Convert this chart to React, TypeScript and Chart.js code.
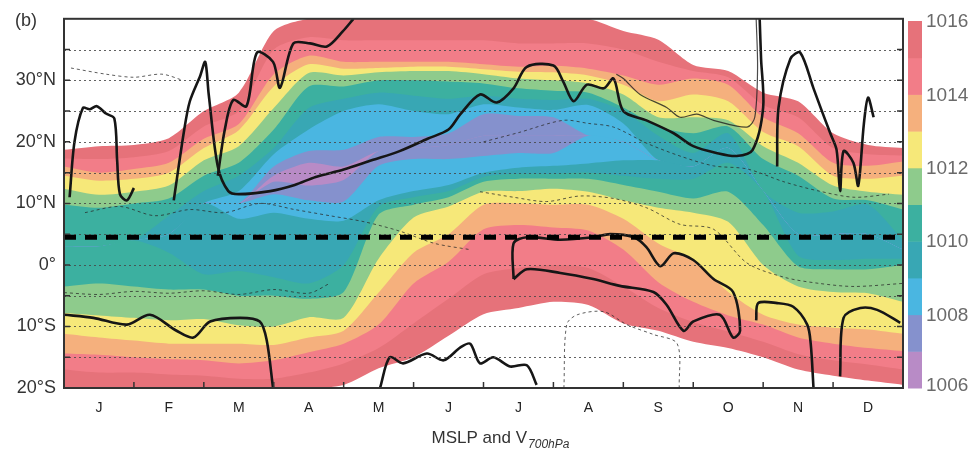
import React, { useEffect, useRef } from "react";
import { Chart, registerables } from "chart.js";

Chart.register(...registerables);

const FONT = '"Liberation Sans", Arial, Helvetica, sans-serif';

const MONTHS = ["J", "F", "M", "A", "M", "J", "J", "A", "S", "O", "N", "D"];
const TIME = [0, 0.5, 1, 1.5, 2, 2.5, 3, 3.5, 4, 4.5, 5, 5.5, 6, 6.5, 7, 7.5, 8, 8.5, 9, 9.5, 10, 10.5, 11, 11.5, 12];
const Y_LABEL_TICKS = [-20, -10, 0, 10, 20, 30];
const GRID_LATS = [-15, -10, -5, 0, 5, 10, 15, 20, 25, 30, 35];
const CBAR_LEVELS = [1006, 1007, 1008, 1009, 1010, 1011, 1012, 1013, 1014, 1015, 1016];
const CBAR_LABELS = [1006, 1008, 1010, 1012, 1014, 1016];

// colour of the band whose lower bound is the key (hPa)
const BAND_COLORS: Record<number, string> = {
  1015: "#E6727A",
  1014: "#F27D88",
  1013: "#F5B07D",
  1012: "#F6E879",
  1011: "#8ECB8C",
  1010: "#3CB0A0",
  1009: "#38A7B4",
  1008: "#4AB6E1",
  1007: "#8591CD",
  1006: "#B88BC6",
};

// Latitude of each isobar crossing, south (S) and north (N) of the pressure trough
const S16 = [-20, -20, -20, -20, -20, -20, -20, -20, -19.5, -16.8, -15, -11.5, -8, -7, -6, -6.5, -9.5, -10.7, -12.5, -13.5, -15, -17, -18, -18.8, -19.5];
const S15 = [-17, -17.5, -17.5, -17.8, -18, -18.5, -18.5, -17.5, -16, -13.5, -9.5, -5.5, -1.5, -0.5, 0, -0.5, -3.5, -7, -9.3, -10.8, -12.5, -14.5, -15.5, -16.2, -17];
const S14 = [-14.4, -14.6, -15, -15.3, -15.5, -16, -15.5, -14.2, -12.8, -9.7, -3, 0.5, 5.8, 6.5, 6.1, 5.6, 2.5, -2.8, -6, -8.2, -9.7, -11.8, -12.8, -13.5, -14];
const S13 = [-11.2, -11.8, -12.3, -12.8, -12.8, -12.8, -13, -11.8, -10.7, -4.5, 2, 5, 9.8, 10, 9.8, 9.8, 7.5, 3.5, 0.8, -4.4, -8.1, -9.7, -10.2, -10.5, -11.2];
const S12 = [-7.8, -8.2, -8.6, -9, -8.8, -9.8, -10, -8.5, -8.6, 1, 7.7, 9.5, 11.9, 12, 12.4, 11.9, 10.5, 9.3, 8.5, 7, 0, -3.5, -4.4, -4.6, -6];
const S11 = [-3.5, -3, -3.5, -4, -4, -5, -5, -5.5, -4.4, 8.2, 9.8, 11, 13.5, 14, 14, 14, 13, 11.9, 10.8, 11.9, 6.5, -0.2, -0.7, -0.7, 0];
const S10 = [3, 3, 4, 2, -1.5, -1, -2, -3, 0, 9.5, 11, 12, 14.3, 14.8, 14.8, 15, 14.5, 14, 14, 16.6, 12, 1.5, 0.8, 1, 1];
const S9 = [3, 3, 4, 5, 10, 7.5, 8.5, 7.5, 7.2, 10.5, 12, 13, 15, 15.8, 16.1, 16.5, 17, 17, 16, 19, 12, 5, 5, 5, 2.5];
const S8 = [3, 3, 4, 5, 10, 10, 11.5, 10.5, 10.3, 16.1, 17.2, 17.2, 17.7, 18.2, 18.2, 21, 20, 17, 16, 19, 12, 5, 5, 5, 2.5];
const S7 = [3, 3, 4, 5, 10, 10, 13.5, 12.9, 13.8, 18.5, 19, 19.5, 21, 21, 21, 21, 20, 17, 16, 19, 12, 5, 5, 5, 2.5];
const N7 = [3, 3, 4, 5, 10, 10, 14.5, 16.6, 16, 18.5, 19, 19.5, 21, 21, 21, 21, 20, 17, 16, 19, 12, 5, 5, 5, 2.5];
const N8 = [3, 3, 4, 5, 10, 10, 16, 18.5, 18.7, 20.8, 20.8, 21.4, 24.5, 24.2, 24, 21, 20, 17, 16, 19, 12, 5, 5, 5, 2.5];
const N9 = [3, 3, 4, 5, 10, 12, 18, 22, 25, 26.1, 25, 24.5, 26.1, 25.6, 25.2, 26, 23, 17, 16, 19, 12, 5, 5, 5, 2.5];
const N10 = [3, 3, 4, 8, 12, 14.5, 19, 25.5, 27, 28, 27.5, 27, 27.5, 27, 26.8, 27, 25, 21, 18.2, 21.4, 12, 8.5, 8.7, 9.8, 4];
const N11 = [9.8, 9.3, 10, 10.8, 14.5, 16.6, 22, 29, 29, 30, 30, 29.8, 29.5, 28.7, 28.3, 28, 25.6, 22.5, 21.4, 22.5, 17.2, 14.5, 10.8, 10.5, 9];
const N12 = [12.4, 11.4, 11.9, 12.9, 17, 19.3, 25.5, 31.2, 30.8, 31.3, 31.5, 31.5, 31, 30.3, 30, 29.5, 27.7, 24, 24, 23.5, 19.3, 16.6, 12.9, 11.9, 11.4];
const N13 = [14.5, 13.7, 14, 15, 19, 21.9, 29, 32.6, 31.9, 32, 32.2, 32.2, 31.8, 31.4, 31.3, 30.8, 29.3, 26.6, 27.7, 26.6, 21.6, 19.3, 14.5, 14, 14.5];
const N14 = [16, 15, 15.6, 16.6, 20.5, 22.9, 31, 34, 33, 33, 33, 33, 32.6, 32.2, 32.4, 31.9, 30.8, 29.3, 30.3, 29.3, 24, 21.4, 16.6, 16.1, 16.8];
const N15 = [17.3, 17.2, 17.5, 18.5, 22.5, 25, 35, 37, 36.5, 36.5, 36.5, 36.5, 36.5, 36, 36, 36, 35, 33, 31.5, 30.5, 26, 24, 19, 18, 17.8];
const N16 = [18.7, 19.3, 19.5, 20.6, 25, 28, 38, 40, 40, 40, 40, 40, 40, 40, 40, 40, 38, 36.6, 32.5, 31.5, 28, 26.6, 21.4, 19.5, 19];

const ISOBARS = [S16, S15, S14, S13, S12, S11, S10, S9, S8, S7, N7, N8, N9, N10, N11, N12, N13, N14, N15, N16];

// V700 zero contours, thick (month, latitude)
const V_NH_TROUGH: number[][] = [
  [1.57, 10.5], [1.72, 22], [1.8, 26.6], [1.95, 30.8], [2.02, 33], [2.07, 27.7], [2.2, 16], [2.35, 12], [2.5, 11.5],
  [2.95, 12], [3.3, 13], [3.6, 14.3], [4.0, 15.5], [4.4, 17], [4.8, 18.5], [5.2, 20.5], [5.5, 22], [5.67, 24.5],
  [5.95, 27.7], [6.19, 26.4], [6.43, 28.7], [6.62, 32.2], [7.0, 32.4], [7.14, 29.8], [7.29, 26.6], [7.48, 29.3],
  [7.72, 28.7], [7.86, 30.3], [8.0, 25], [8.33, 23.5], [8.72, 21.4], [9.0, 19.3], [9.33, 18.2], [9.62, 17.7],
  [9.85, 18.7], [10.0, 25.6], [9.97, 33.5], [9.95, 40],
];
const V_NH_SPRING: number[][] = [
  [2.2, 14.5], [2.3, 22], [2.42, 26.8], [2.61, 25.8], [2.76, 34.5], [2.99, 33], [3.09, 28.8], [3.28, 36], [3.52, 36], [3.76, 35.5], [3.99, 38], [4.14, 40],
];
const V_NH_WINTER: number[][] = [
  [0.08, 11], [0.15, 20], [0.27, 25.5], [0.37, 25.3], [0.47, 25.8], [0.6, 24.6], [0.72, 23.8], [0.76, 17], [0.8, 11.5], [0.9, 10.5], [1.0, 12.5],
];
const V_NH_NOV: number[][] = [
  [10.2, 16], [10.22, 25.6], [10.39, 33.5], [10.53, 34.5], [10.72, 28.7], [10.82, 25.6], [10.96, 21.4], [11.05, 18.7], [11.1, 12],
  [11.15, 18.5], [11.29, 16.6], [11.36, 12.9], [11.44, 22.9], [11.5, 27.2], [11.58, 24],
];
const V_SH_WINTER: number[][] = [
  [0, -8.1], [0.42, -8.6], [0.9, -9.7], [1.23, -8.1], [1.61, -10.7], [1.85, -11.8], [2.09, -9.2], [2.52, -8.6], [2.8, -9.2], [2.9, -12.3], [2.99, -20],
];
const V_EQ_LOOP: number[][] = [
  [6.43, -2.3], [6.43, 3.5], [6.62, 4.5], [7.1, 4.1], [7.57, 4.5], [7.81, 5], [8.15, 4.5], [8.33, 2.9], [8.53, -0.2], [8.72, 1.9],
  [9.0, 0.8], [9.29, -2.3], [9.57, -4.4], [9.67, -10.7], [9.57, -11.8], [9.38, -8.1], [9.0, -9.2], [8.86, -10.7], [8.62, -6.5],
  [8.43, -4.4], [7.95, -3.4], [7.57, -2.3], [7.1, -1.3], [6.62, -0.7], [6.43, -2.3],
];
const V_SH_AUTUMN: number[][] = [
  [9.9, -9], [9.93, -6.2], [10.2, -6.2], [10.43, -6.8], [10.63, -9.7], [10.68, -12.8], [10.72, -20],
];
const V_SH_DEC: number[][] = [
  [11.1, -18.1], [11.15, -8.6], [11.39, -7], [11.63, -7.3], [11.96, -9.4],
];
const V_SH_JUN: number[][] = [
  [4.52, -20], [4.66, -15], [4.85, -16], [5.19, -14.4], [5.43, -15.5], [5.67, -13.4], [5.81, -12.8], [5.95, -16], [6.14, -15], [6.38, -16.5], [6.62, -16.3], [6.76, -19.5],
];
const THICK_CONTOURS = [V_NH_TROUGH, V_NH_SPRING, V_NH_WINTER, V_NH_NOV, V_SH_WINTER, V_EQ_LOOP, V_SH_AUTUMN, V_SH_DEC, V_SH_JUN];

// thin solid (southerly-positive) contour
const V_THIN_AUTUMN: number[][] = [
  [7.9, 31], [8.0, 30.3], [8.24, 27.7], [8.62, 25.6], [8.81, 24], [9.05, 24.5], [9.29, 23.5], [9.77, 22.4], [9.88, 24], [9.92, 32], [9.9, 40],
];
const THIN_CONTOURS = [V_THIN_AUTUMN];

// thin dotted (negative) contours
const V_NEG_TROP_S: number[][] = [
  [0, -4.5], [0.5, -4.8], [1.0, -4.3], [1.5, -4.6], [2.0, -4.2], [2.5, -4.8], [3.0, -4.0], [3.5, -4.6], [3.8, -3],
];
const V_NEG_TROP_N: number[][] = [
  [0.3, 8.5], [0.8, 9.5], [1.3, 8], [1.8, 9], [2.3, 8.5], [2.8, 10], [3.3, 9], [3.8, 8], [4.3, 7], [4.8, 5.5], [5.3, 3.5], [5.8, 2.5],
];
const V_NEG_SUMMER: number[][] = [
  [5.95, 11.9], [6.43, 11], [6.9, 10.3], [7.38, 11.2], [7.86, 10.8], [8.33, 9.3], [8.81, 6.6], [9.29, 5.8], [9.77, 0.3], [10.3, -2], [10.8, -3], [11.3, -3.5], [12, -3],
];
const V_NEG_AUTUMN: number[][] = [
  [6.0, 20], [6.5, 21.5], [7.14, 23.5], [7.5, 23], [7.86, 22.4], [8.33, 19.8], [8.81, 17.7], [9.29, 16.1], [9.77, 15.6], [10.3, 13.5], [10.8, 12], [11.3, 11], [11.8, 11.5],
];
const V_NEG_WINTER_N: number[][] = [
  [0.1, 32], [0.6, 31], [1.0, 30.5], [1.4, 31], [1.7, 30],
];
const V_NEG_SH_WHITE: number[][] = [
  [7.15, -20], [7.19, -9.7], [7.34, -8.1], [7.72, -7.6], [8.05, -9.7], [8.43, -11.3], [8.77, -12.8], [8.8, -20],
];
const DOTTED_CONTOURS = [V_NEG_TROP_S, V_NEG_TROP_N, V_NEG_SUMMER, V_NEG_AUTUMN, V_NEG_WINTER_N, V_NEG_SH_WHITE];

const DASHED_LAT = 4.5;

// colour painted below isobar i (i: 0 = S16 ... 9 = S7, 10 = N7 ... 19 = N16)
function belowColor(i: number) {
  if (i === 0) return "#ffffff";
  if (i <= 9) return BAND_COLORS[1016 - i];
  return BAND_COLORS[996 + i];
}

const decorPlugin = {
  id: "decor",
  afterDatasetsDraw(chart: any) {
    const { ctx, chartArea: a, scales } = chart;
    const y = scales.y;
    const x = scales.x;
    ctx.save();
    ctx.strokeStyle = "rgba(70,70,70,0.85)";
    ctx.lineWidth = 1;
    ctx.setLineDash([2, 3]);
    for (const v of GRID_LATS) {
      const py = Math.round(y.getPixelForValue(v)) + 0.5;
      ctx.beginPath();
      ctx.moveTo(a.left, py);
      ctx.lineTo(a.right, py);
      ctx.stroke();
    }
    ctx.setLineDash([]);
    ctx.strokeStyle = "#333";
    ctx.lineWidth = 1.5;
    for (const v of GRID_LATS) {
      const py = y.getPixelForValue(v);
      ctx.beginPath();
      ctx.moveTo(a.left, py);
      ctx.lineTo(a.left + 6, py);
      ctx.moveTo(a.right, py);
      ctx.lineTo(a.right - 6, py);
      ctx.stroke();
    }
    for (let m = 1; m < 12; m++) {
      const px = x.getPixelForValue(m);
      ctx.beginPath();
      ctx.moveTo(px, a.bottom);
      ctx.lineTo(px, a.bottom - 6);
      ctx.stroke();
    }
    ctx.lineWidth = 2;
    ctx.strokeRect(a.left, a.top, a.right - a.left, a.bottom - a.top);
    ctx.restore();
  },
  afterDraw(chart: any) {
    const { ctx } = chart;
    ctx.save();
    // colour bar
    const cbX = 908;
    const cbW = 14;
    const cbTop = 21;
    const cbBot = 388;
    const n = CBAR_LEVELS.length - 1;
    const h = (cbBot - cbTop) / n;
    const lvlY = (lv: number) => cbBot - ((lv - CBAR_LEVELS[0]) / n) * (cbBot - cbTop);
    for (let k = 0; k < n; k++) {
      const lv = CBAR_LEVELS[k];
      ctx.fillStyle = BAND_COLORS[lv];
      ctx.fillRect(cbX, lvlY(lv) - h, cbW, h + 0.5);
    }
    ctx.fillStyle = "#6a6a6a";
    ctx.font = `19px ${FONT}`;
    ctx.textAlign = "left";
    ctx.textBaseline = "middle";
    for (const lv of CBAR_LABELS) {
      let yy = lvlY(lv);
      if (lv === 1006) yy -= 3;
      ctx.fillText(String(lv), 926, yy + 1);
    }
    // panel label
    ctx.fillStyle = "#333";
    ctx.font = `18px ${FONT}`;
    ctx.textBaseline = "alphabetic";
    ctx.fillText("(b)", 15, 26);
    // x axis title with subscript
    const main = "MSLP and V";
    const sub = "700hPa";
    ctx.font = `17px ${FONT}`;
    const w1 = ctx.measureText(main).width;
    ctx.font = `italic 12px ${FONT}`;
    const w2 = ctx.measureText(sub).width;
    const x0 = 500 - (w1 + w2) / 2;
    ctx.fillStyle = "#333";
    ctx.font = `17px ${FONT}`;
    ctx.fillText(main, x0, 443);
    ctx.font = `italic 12px ${FONT}`;
    ctx.fillText(sub, x0 + w1 + 1, 448);
    ctx.restore();
  },
};

export default function App() {
  const ref = useRef<HTMLCanvasElement | null>(null);

  useEffect(() => {
    document.body.style.margin = "0";
    const canvas = ref.current;
    if (!canvas) return;

    // painter's order: N16 first ... N7, S7 ... S16 last; each isobar fills down to the bottom
    const fillSets = ISOBARS.map((arr, i) => ({
      type: "line",
      data: TIME.map((t, j) => ({ x: t, y: arr[j] })),
      backgroundColor: belowColor(i),
      borderColor: "rgba(0,0,0,0)",
      borderWidth: 0,
      pointRadius: 0,
      tension: 0.25,
      fill: "start",
      order: 100 + i,
    }));

    const toXY = (pts: number[][]) => pts.map((p) => ({ x: p[0], y: p[1] }));

    const dottedSets = DOTTED_CONTOURS.map((pts) => ({
      type: "line",
      data: toXY(pts),
      borderColor: "rgba(40,40,40,0.75)",
      borderWidth: 1,
      borderDash: [3, 3],
      pointRadius: 0,
      tension: 0.3,
      fill: false,
      order: 2,
    }));

    const thinSets = THIN_CONTOURS.map((pts) => ({
      type: "line",
      data: toXY(pts),
      borderColor: "rgba(30,30,30,0.8)",
      borderWidth: 1.2,
      pointRadius: 0,
      tension: 0.3,
      fill: false,
      order: 1,
    }));

    const thickSets = THICK_CONTOURS.map((pts) => ({
      type: "line",
      data: toXY(pts),
      borderColor: "#161616",
      borderWidth: 2.6,
      pointRadius: 0,
      tension: 0.3,
      fill: false,
      order: 0,
    }));

    const dashedSet = {
      type: "line",
      data: [
        { x: 0, y: DASHED_LAT },
        { x: 12, y: DASHED_LAT },
      ],
      borderColor: "#000",
      borderWidth: 5,
      borderDash: [12, 9],
      pointRadius: 0,
      fill: false,
      order: -1,
    };

    const chart = new Chart(canvas, {
      type: "line",
      data: { datasets: [...fillSets, ...dottedSets, ...thinSets, ...thickSets, dashedSet] as any },
      options: {
        animation: false,
        responsive: false,
        maintainAspectRatio: false,
        events: [],
        layout: { padding: { top: 9, right: 70, bottom: 0, left: 0 } },
        plugins: {
          legend: { display: false },
          tooltip: { enabled: false },
          filler: { propagate: false },
        },
        scales: {
          x: {
            type: "linear",
            min: 0,
            max: 12,
            grid: { display: false, drawTicks: false },
            border: { display: false },
            afterBuildTicks: (scale: any) => {
              scale.ticks = MONTHS.map((_, i) => ({ value: i + 0.5 }));
            },
            afterFit: (scale: any) => {
              scale.height = 63;
            },
            ticks: {
              autoSkip: false,
              maxRotation: 0,
              padding: 12,
              color: "#222",
              font: { family: FONT, size: 14 },
              callback: (v: any) => MONTHS[Math.floor(Number(v))],
            },
          },
          y: {
            type: "linear",
            min: -20,
            max: 40,
            grid: { display: false, drawTicks: false },
            border: { display: false },
            afterBuildTicks: (scale: any) => {
              scale.ticks = Y_LABEL_TICKS.map((v) => ({ value: v }));
            },
            afterFit: (scale: any) => {
              scale.width = 64;
            },
            ticks: {
              padding: 8,
              color: "#333",
              font: { family: FONT, size: 18 },
              callback: (v: any) => {
                const n = Number(v);
                if (n === 0) return "0°";
                return n > 0 ? `${n}°N` : `${-n}°S`;
              },
            },
          },
        },
      } as any,
      plugins: [decorPlugin],
    });

    return () => chart.destroy();
  }, []);

  return (
    <div style={{ position: "absolute", left: 0, top: 0, width: 973, height: 451, background: "#fff" }}>
      <canvas ref={ref} width={973} height={451} style={{ width: 973, height: 451, display: "block" }} />
    </div>
  );
}
